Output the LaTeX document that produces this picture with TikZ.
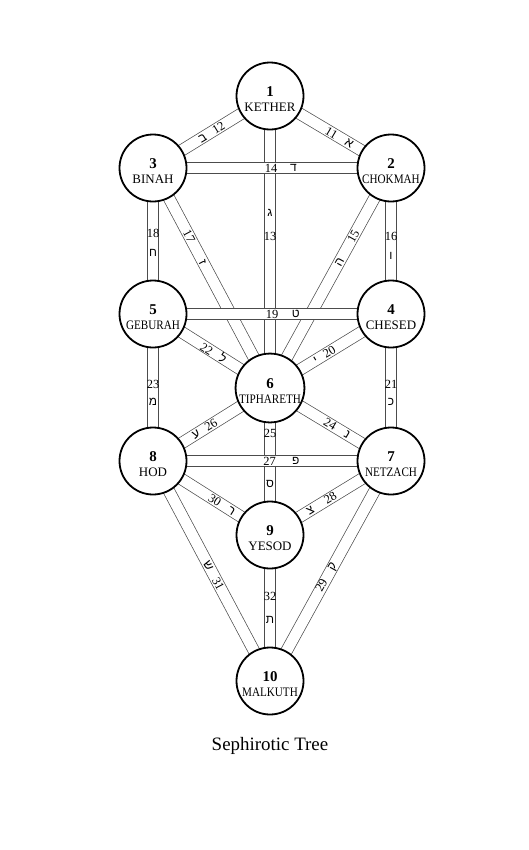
\documentclass[tikz,border=0pt]{standalone}
\usepackage{fontspec}
\usepackage{graphicx}
\setmainfont{Liberation Serif}
\newfontfamily\hebfont[Script=Hebrew]{Liberation Sans}
\TeXXeTstate=1
\usetikzlibrary{backgrounds}

\newcommand{\snum}[1]{{\fontsize{15}{15}\selectfont\bfseries\rule{0pt}{15.5pt}#1}}
\newcommand{\tight}[1]{\scalebox{0.86}[1]{#1}}
\newcommand{\heb}[1]{{\hebfont\beginR #1\endR}}

\begin{document}
\begin{tikzpicture}[
    x=1bp, y=-1bp,
    sephira/.style={circle, draw, line width=1.8bp, fill=white, minimum size=67bp,
                    inner sep=0pt, align=center, font=\fontsize{13}{15}\selectfont},
    chan/.style={draw=black!70, line width=0.7bp, double=white, double distance=10.8bp},
    plab/.style={inner sep=0pt, font=\fontsize{12.5}{13}\selectfont},
    hlab/.style={inner sep=0pt, font=\fontsize{12}{13}\selectfont},
    slab/.style={plab, sloped}
]
\useasboundingbox (0,0) rectangle (529,850);

%% ---- Sephiroth ----
\node[sephira] (s1)  at (270, 96)  {\snum{1}\\KETHER};
\node[sephira] (s2)  at (391,168)  {\snum{2}\\\tight{CHOKMAH}};
\node[sephira] (s3)  at (153,168)  {\snum{3}\\BINAH};
\node[sephira] (s4)  at (391,314)  {\snum{4}\\CHESED};
\node[sephira] (s5)  at (153,314)  {\snum{5}\\\tight{GEBURAH}};
\node[sephira] (s6)  at (270,388)  {\snum{6}\\\tight{TIPHARETH}};
\node[sephira] (s7)  at (391,461)  {\snum{7}\\\tight{NETZACH}};
\node[sephira] (s8)  at (153,461)  {\snum{8}\\HOD};
\node[sephira] (s9)  at (270,535)  {\snum{9}\\YESOD};
\node[sephira] (s10) at (270,681)  {\snum{10}\\\tight{MALKUTH}};

\node[font=\fontsize{19}{21}\selectfont] (caption) at (270,746) {Sephirotic Tree};

%% ---- Paths (behind the circles) ----
\begin{scope}[on background layer]
\draw[chan] (s1.center) -- node[slab,pos=.575]{11\hspace{11bp}\heb{א}} (s2.center);
\draw[chan] (s1.center) -- node[slab,pos=.50]{\heb{ב}\hspace{9bp}12} (s3.center);
\draw[chan] (s1.center) -- node[hlab,pos=.40]{\heb{ג}} node[plab,pos=.48]{13} (s6.center);
\draw[chan] (s2.center) -- node[slab,pos=.365]{\heb{ה}\hspace{19bp}15} (s6.center);
\draw[chan] (s2.center) -- node[plab,pos=.47]{16} node[hlab,pos=.60]{\heb{ו}} (s4.center);
\draw[chan] (s3.center) -- node[slab,pos=.36]{17\hspace{21bp}\heb{ז}} (s6.center);
\draw[chan] (s3.center) -- node[plab,pos=.445]{18} node[hlab,pos=.58]{\heb{ח}} (s5.center);
\draw[chan] (s4.center) -- node[slab,pos=.55]{\heb{י}\hspace{8bp}20} (s6.center);
\draw[chan] (s4.center) -- node[plab,pos=.48]{21} node[hlab,pos=.60]{\heb{כ}} (s7.center);
\draw[chan] (s5.center) -- node[slab,pos=.52]{22\hspace{9.5bp}\heb{ל}} (s6.center);
\draw[chan] (s5.center) -- node[plab,pos=.48]{23} node[hlab,pos=.60]{\heb{מ}} (s8.center);
\draw[chan] (s6.center) -- node[slab,pos=.555]{24\hspace{11.5bp}\heb{נ}} (s7.center);
\draw[chan] (s6.center) -- node[plab,pos=.31]{25} node[hlab,pos=.65]{\heb{ס}} (s9.center);
\draw[chan] (s6.center) -- node[slab,pos=.56]{\heb{ע}\hspace{8bp}26} (s8.center);
\draw[chan] (s9.center) -- node[slab,pos=.425]{\heb{צ}\hspace{14bp}28} (s7.center);
\draw[chan] (s7.center) -- node[slab,pos=.53]{29\hspace{12bp}\heb{ק}} (s10.center);
\draw[chan] (s8.center) -- node[slab,pos=.59]{30\hspace{10.5bp}\heb{ר}} (s9.center);
\draw[chan] (s8.center) -- node[slab,pos=.52]{\heb{ש}\hspace{9.5bp}31} (s10.center);
\draw[chan] (s9.center) -- node[plab,pos=.42]{32} node[hlab,pos=.58]{\heb{ת}} (s10.center);
%% horizontals lie over the rest
\draw[chan] (s3.center) -- node[plab,pos=.496]{14} node[hlab,pos=.59]{\heb{ד}} (s2.center);
\draw[chan] (s5.center) -- node[plab,pos=.50]{19} node[hlab,pos=.60]{\heb{ט}} (s4.center);
\draw[chan] (s8.center) -- node[plab,pos=.49]{27} node[hlab,pos=.60]{\heb{פ}} (s7.center);
\end{scope}

\end{tikzpicture}
\end{document}
